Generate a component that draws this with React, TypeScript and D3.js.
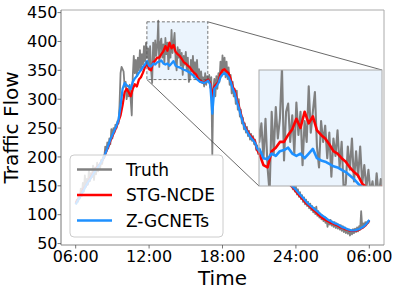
import React from 'react';
import * as d3 from 'd3';

const startHour = 6;
const truthStepMin = 5;
const modelStepMin = 10;

const truth = [
  118,126,122,134,128,145,132,155,140,168,
  148,162,152,178,158,172,165,185,160,182,
  170,190,175,186,180,195,188,200,198,218,
  208,225,215,232,222,248,232,250,242,256,
  250,262,258,290,345,356,352,348,322,330,
  300,318,305,325,298,272,340,375,345,368,
  340,372,350,385,352,378,360,392,365,398,
  372,388,358,392,350,328,398,362,402,375,
  392,436,356,398,405,372,395,362,406,378,
  398,352,390,372,420,380,398,415,368,350,
  390,372,386,358,380,342,375,360,382,350,
  372,330,336,368,348,375,338,364,342,368,
  336,352,332,348,328,338,322,345,325,340,
  330,342,320,338,203,318,335,305,340,318,
  345,330,365,340,376,345,372,338,365,335,
  355,325,342,310,330,305,318,292,315,282,
  300,270,282,258,268,248,258,242,252,236,
  245,230,240,228,236,222,230,212,220,205,
  215,208,214,200,206,196,203,192,198,188,
  194,184,190,180,186,176,182,172,178,168,
  174,164,170,160,166,158,163,155,160,152,
  156,149,153,144,150,140,148,135,144,131,
  139,127,134,122,130,118,126,115,122,111,
  119,108,115,104,112,101,114,98,106,95,
  102,92,99,89,96,86,94,79,90,83,
  91,81,88,79,87,77,85,76,83,74,
  82,72,80,70,78,68,76,67,74,64,
  73,66,75,68,76,70,78,71,80,74,
  106,79,85,81,87,83,88,86,90,
];

const stgNcde = [
  120,125,132,138,145,150,156,162,168,174,
  180,184,188,194,200,210,218,228,236,244,
  252,262,272,290,312,318,312,305,318,326,
  322,334,338,346,356,362,352,350,364,367,
  372,372,378,383,392,384,398,388,394,382,
  378,375,370,364,362,358,355,350,346,343,
  336,333,330,328,332,334,328,305,322,326,
  330,344,350,352,348,345,335,322,315,300,
  288,275,262,252,246,240,236,232,226,212,
  205,202,198,194,190,186,182,178,175,171,
  168,166,163,160,156,152,149,145,140,136,
  132,128,124,120,117,114,110,107,104,100,
  97,94,92,90,88,86,85,83,82,80,
  78,77,75,74,73,72,72,72,73,74,
  76,78,81,85,90,
];

const zGcnets = [
  118,124,130,137,143,150,156,161,167,173,
  178,183,188,194,201,210,220,230,238,246,
  254,264,288,318,328,324,322,318,330,336,
  340,346,350,356,360,366,358,357,362,360,
  364,365,367,362,360,362,358,362,366,358,
  356,355,353,351,350,348,346,343,340,336,
  333,330,329,328,330,332,325,275,318,322,
  328,338,343,345,342,338,330,318,310,296,
  285,272,260,250,244,238,233,229,224,215,
  210,206,202,198,193,189,185,181,177,173,
  170,167,164,161,158,154,150,147,143,139,
  135,131,127,123,119,116,113,110,107,104,
  101,98,96,93,91,89,87,85,84,82,
  80,78,77,75,74,73,73,73,74,75,
  77,79,82,86,91,
];

const seriesNames = ['Truth', 'STG-NCDE', 'Z-GCNETs'];
const xTickHours = [6, 12, 18, 24, 30];
const xTickLabels = ['06:00', '12:00', '18:00', '24:00', '06:00'];
const yTicks = [50, 100, 150, 200, 250, 300, 350, 400, 450];
const zoomHours = [11.82, 16.8];
const zoomValues = [334, 434];

const FONT = 'DejaVu Sans, sans-serif';
const COLORS = ['#808080', '#ff0000', '#1e90ff'];
const WIDTHS = [1.8, 2.3, 2.3];

export default function App() {
  const W = 399, H = 291;
  const m = { l: 61, r: 384, t: 10, b: 245 };
  const ins = { l: 259, r: 382, t: 70, b: 186 };
  const x = d3.scaleLinear().domain([4.8, 31.2]).range([m.l, m.r]);
  const y = d3.scaleLinear().domain([47.5, 454.5]).range([m.b, m.t]);
  const xi = d3.scaleLinear().domain(zoomHours).range([ins.l, ins.r]);
  const yi = d3.scaleLinear().domain(zoomValues).range([ins.b, ins.t]);

  const toPts = (arr: number[], step: number) =>
    arr.map((v, i) => [startHour + (i * step) / 60, v] as [number, number]);
  const series = [
    toPts(truth, truthStepMin),
    toPts(stgNcde, modelStepMin),
    toPts(zGcnets, modelStepMin),
  ];
  const mainLine = d3.line<[number, number]>().x(d => x(d[0])).y(d => y(d[1]));
  const insLine = d3.line<[number, number]>().x(d => xi(d[0])).y(d => yi(d[1]));

  const rx0 = x(zoomHours[0]), rx1 = x(zoomHours[1]);
  const ry0 = y(zoomValues[1]), ry1 = y(zoomValues[0]);
  const fillBlue = '#ebf4fd';

  const legY = [169.5, 195, 220.5];

  return (
    <svg width={W} height={H} style={{ position: 'absolute', left: 0, top: 0, background: '#fff' }} fontFamily={FONT}>
      <defs>
        <clipPath id="mainClip"><rect x={m.l} y={m.t} width={m.r - m.l} height={m.b - m.t} /></clipPath>
        <clipPath id="insClip"><rect x={ins.l} y={ins.t} width={ins.r - ins.l} height={ins.b - ins.t} /></clipPath>
      </defs>
      <rect x={0} y={0} width={W} height={H} fill="#fff" />
      <rect x={rx0} y={ry0} width={rx1 - rx0} height={ry1 - ry0} fill={fillBlue} stroke="none" />
      <g clipPath="url(#mainClip)">
        {series.map((s, k) => (
          <path key={k} d={mainLine(s) || ''} fill="none" stroke={COLORS[k]} strokeWidth={WIDTHS[k]} strokeLinejoin="round" />
        ))}
      </g>
      <rect x={rx0} y={ry0} width={rx1 - rx0} height={ry1 - ry0} fill="none" stroke="#555" strokeWidth={0.8} strokeDasharray="3,2" />
      <line x1={m.l} x2={m.r} y1={m.t} y2={m.t} stroke="#aaa" strokeWidth={1} />
      <line x1={m.r} x2={m.r} y1={m.t} y2={m.b} stroke="#aaa" strokeWidth={1} />
      <line x1={m.l} x2={m.l} y1={m.t} y2={m.b} stroke="#777" strokeWidth={1} />
      <line x1={m.l} x2={m.r} y1={m.b} y2={m.b} stroke="#888" strokeWidth={1} />
      {yTicks.map(t => (
        <g key={t}>
          <line x1={m.l - 3.5} x2={m.l} y1={y(t)} y2={y(t)} stroke="#555" strokeWidth={0.8} />
          <text x={57.5} y={y(t)} dy="0.36em" textAnchor="end" fontSize={16} fill="#000">{t}</text>
        </g>
      ))}
      {xTickHours.map((h, i) => (
        <g key={i}>
          <line x1={x(h)} x2={x(h)} y1={m.b} y2={m.b + 3.5} stroke="#555" strokeWidth={0.8} />
          <text x={x(h)} y={262} textAnchor="middle" fontSize={16} fill="#000">{xTickLabels[i]}</text>
        </g>
      ))}
      <text x={(m.l + m.r) / 2} y={284.5} textAnchor="middle" fontSize={20} fill="#000">Time</text>
      <text transform={`translate(18.3,${(m.t + m.b) / 2}) rotate(-90)`} textAnchor="middle" fontSize={20} fill="#000">Traffic Flow</text>
      <rect x={70} y={155} width={153} height={82} rx={4} fill="#fff" fillOpacity={0.8} stroke="#ccc" strokeWidth={1} />
      {seriesNames.map((n, k) => (
        <g key={n}>
          <line x1={77} x2={112} y1={legY[k]} y2={legY[k]} stroke={COLORS[k]} strokeWidth={2.3} />
          <text x={126} y={legY[k]} dy="0.36em" fontSize={17} fill="#000">{n}</text>
        </g>
      ))}
      <line x1={rx1} y1={ry0} x2={ins.r} y2={ins.t} stroke="#444" strokeWidth={0.8} />
      <line x1={rx0} y1={ry1} x2={ins.l} y2={ins.b} stroke="#444" strokeWidth={0.8} />
      <rect x={ins.l} y={ins.t} width={ins.r - ins.l} height={ins.b - ins.t} fill={fillBlue} />
      <g clipPath="url(#insClip)">
        {series.map((s, k) => (
          <path key={k} d={insLine(s) || ''} fill="none" stroke={COLORS[k]} strokeWidth={WIDTHS[k] + 0.3} strokeLinejoin="round" />
        ))}
      </g>
      <rect x={ins.l} y={ins.t} width={ins.r - ins.l} height={ins.b - ins.t} fill="none" stroke="#aaa" strokeWidth={1} />
    </svg>
  );
}
